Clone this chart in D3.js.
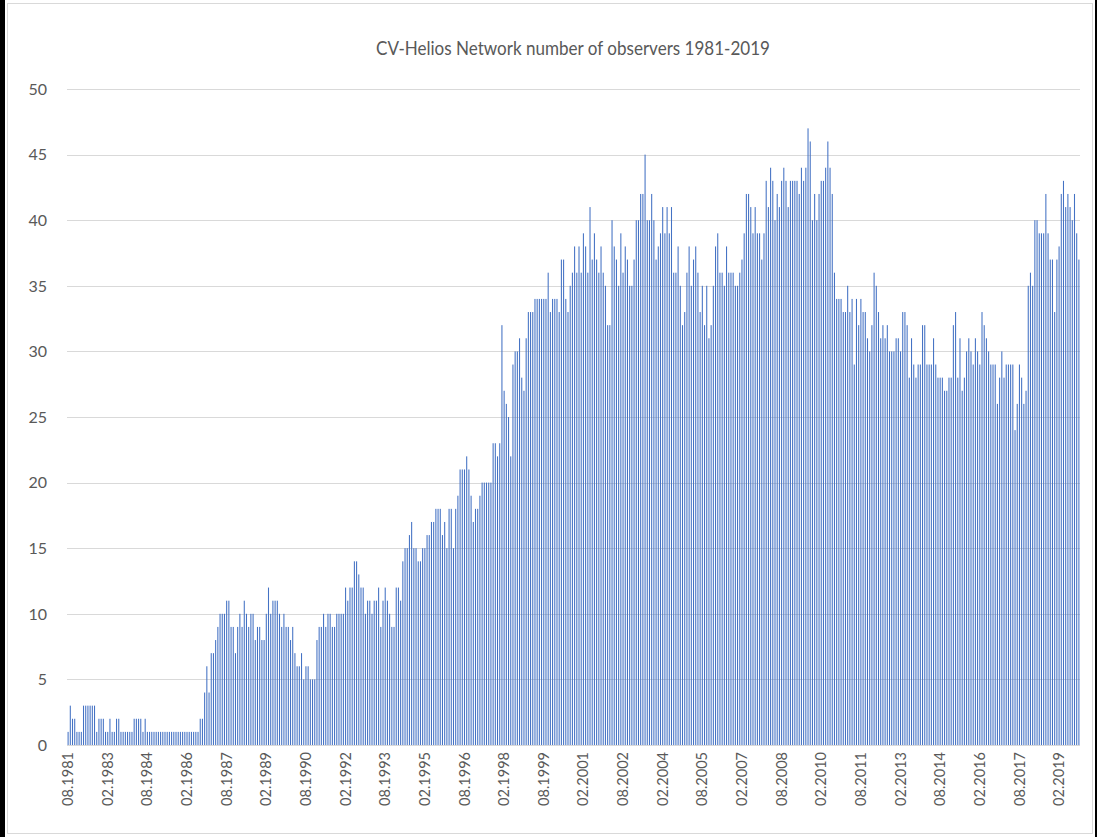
<!doctype html>
<html>
<head>
  <meta charset="utf-8">
  <title>CV-Helios Network number of observers 1981-2019</title>
  <script src="https://cdn.jsdelivr.net/npm/d3@7"></script>
  <style>
    body { margin: 0; background: #fff; }
    text { font-family: Lato, "Open Sans", sans-serif; fill: #595959; }
  </style>
</head>
<body>
<div id="chart"></div>
<script>
// monthly observers, 08.1981 .. 11.2019
var observers = [
  1,3,2,2,1,1,1,3,3,3, 3,3,3,1,2,2,2,1,1,2, 1,1,2,2,1,1,1,1,1,1,
  2,2,2,2,1,2,1,1,1,1, 1,1,1,1,1,1,1,1,1,1, 1,1,1,1,1,1,1,1,1,1,
  2,2,4,6,4,7,7,8,9,10, 10,10,11,11,9,9,7,9,10,9, 11,10,9,10,10,8,9,9,8,8,
  10,12,10,11,11,11,10,9,10,9, 9,8,9,7,6,6,7,5,6,6, 5,5,5,8,9,9,10,9,10,10,
  9,9,10,10,10,10,12,11,12,12, 14,14,13,12,12,10,11,11,10,11, 11,12,9,11,12,11,10,9,9,12,
  12,11,14,15,15,16,17,15,15,14, 14,15,15,16,16,17,17,18,18,18, 16,17,15,18,18,15,18,19,21,21,
  21,22,21,19,17,18,18,19,20,20, 20,20,20,23,23,22,23,32,27,26, 25,22,29,30,30,31,28,27,31,33,
  33,33,34,34,34,34,34,34,36,33, 34,34,34,33,37,37,34,33,35,36, 38,36,38,36,39,38,36,41,37,39,
  37,36,38,36,35,32,32,40,38,37, 35,39,36,38,37,35,35,37,40,40, 42,42,45,40,40,42,40,37,38,39,
  41,39,41,39,41,36,36,38,35,32, 33,36,38,35,37,38,36,33,35,32, 35,31,32,35,38,39,36,36,35,38,
  36,36,36,35,35,36,37,39,42,42, 41,39,41,39,39,37,39,43,41,44, 43,40,42,41,43,44,43,41,43,43,
  43,43,42,44,43,44,47,46,40,42, 40,42,43,43,44,46,44,42,36,34, 34,34,33,33,35,33,34,29,34,32,
  34,33,33,31,30,32,36,35,33,31, 32,31,32,30,30,30,31,31,30,33, 33,32,28,31,29,28,29,29,32,32,
  29,29,29,31,29,28,28,28,27,27, 28,28,32,33,28,31,27,28,30,31, 30,29,31,30,29,33,32,31,30,29,
  29,29,26,28,30,28,29,29,29,29, 24,26,29,28,26,27,35,36,35,40, 40,39,39,39,42,39,37,37,33,37,
  38,42,43,41,42,41,40,42,39,37
];

var tickLabels = ["08.1981","02.1983","08.1984","02.1986","08.1987","02.1989","08.1990",
  "02.1992","08.1993","02.1995","08.1996","02.1998","08.1999","02.2001","08.2002",
  "02.2004","08.2005","02.2007","08.2008","02.2010","08.2011","02.2013","08.2014",
  "02.2016","08.2017","02.2019"];

var yTicks = [0, 5, 10, 15, 20, 25, 30, 35, 40, 45, 50];

var title = "CV-Helios Network number of observers 1981-2019";

// month categories built from the start month
var months = [];
for (var k = 0; k < observers.length; k++) {
  var m = (7 + k) % 12 + 1, yr = 1981 + Math.floor((7 + k) / 12);
  months.push((m < 10 ? "0" + m : "" + m) + "." + yr);
}

var W = 1097, H = 837;
var plot = {left: 67, right: 1080, top: 89, bottom: 745};

var svg = d3.select("#chart").append("svg")
  .attr("width", W).attr("height", H);

// frame
svg.append("rect").attr("x", 0).attr("y", 0).attr("width", W).attr("height", H).attr("fill", "#fff");
svg.append("rect").attr("x", 7.5).attr("y", 3.5).attr("width", 1085).attr("height", 830)
  .attr("fill", "none").attr("stroke", "#d9d9d9");
svg.append("rect").attr("x", 0).attr("y", 0).attr("width", 5).attr("height", H).attr("fill", "#000");
svg.append("rect").attr("x", 1095).attr("y", 0).attr("width", 2).attr("height", H).attr("fill", "#000");

var x = d3.scaleBand()
  .domain(months)
  .range([plot.left, plot.right])
  .paddingInner(0.52)
  .paddingOuter(0.26);

var y = d3.scaleLinear()
  .domain([0, 50])
  .range([plot.bottom, plot.top]);

// gridlines
svg.append("g")
  .selectAll("line")
  .data(yTicks)
  .enter()
  .append("line")
    .attr("x1", plot.left).attr("x2", plot.right)
    .attr("y1", function(d){ return Math.round(y(d)) + 0.5; })
    .attr("y2", function(d){ return Math.round(y(d)) + 0.5; })
    .attr("stroke", "#d9d9d9").attr("stroke-width", 1);

// y labels
svg.append("g")
  .selectAll("text")
  .data(yTicks)
  .enter()
  .append("text")
    .attr("x", 47)
    .attr("y", function(d){ return y(d); })
    .attr("dy", "0.36em")
    .attr("text-anchor", "end")
    .style("font-size", "16px")
    .text(function(d){ return d; });

// bars
svg.append("g")
  .selectAll("rect")
  .data(observers)
  .enter()
  .append("rect")
    .attr("x", function(d, i){ return x(months[i]); })
    .attr("y", function(d){ return y(d); })
    .attr("width", x.bandwidth())
    .attr("height", function(d){ return y(0) - y(d); })
    .attr("fill", "#4472c4");

// x labels
svg.append("g")
  .selectAll("text")
  .data(tickLabels)
  .enter()
  .append("text")
    .attr("transform", function(d){
      return "translate(" + (x(d) + x.bandwidth() / 2) + "," + (plot.bottom + 7) + ") rotate(-90)";
    })
    .attr("dy", "0.35em")
    .attr("text-anchor", "end")
    .style("font-size", "14.5px")
    .text(function(d){ return d; });

// title
svg.append("text")
  .attr("x", 573)
  .attr("y", 55)
  .attr("text-anchor", "middle")
  .attr("textLength", 394)
  .attr("lengthAdjust", "spacingAndGlyphs")
  .style("font-size", "20px")
  .text(title);
</script>
</body>
</html>
